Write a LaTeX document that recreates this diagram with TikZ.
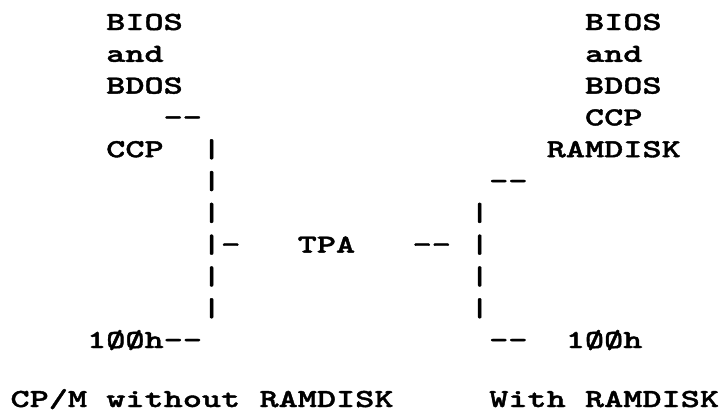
\documentclass[tikz,border=0pt]{standalone}
\usepackage{fontspec}
\newfontfamily\typer{lmmonolt10-bold.otf}[FakeStretch=1.403, FakeBold=1.5]
\begin{document}
\begin{tikzpicture}[x=1pt,y=-1pt,
  tt/.style={anchor=base west, inner sep=0pt, font=\typer\fontsize{26}{30}\selectfont}]
\useasboundingbox (0,0) rectangle (723,416);
% without RAMDISK
\node[tt] (lbios) at (106,30){BIOS};
\node[tt] (land) at (106,61.8){and};
\node[tt] (lbdos) at (106,93.6){BDOS};
\node[tt] (ltop) at (163.4,125.4){--};
\node[tt] (lccp) at (106,157.2){CCP};
\node[tt] (lbar4) at (201.8,157.2){|};
\node[tt] (lbar5) at (201.8,189){|};
\node[tt] (lbar6) at (201.8,220.8){|};
\node[tt] (lbar7) at (201.8,252.6){|-};
\node[tt] (lbar8) at (201.8,284.4){|};
\node[tt] (lbar9) at (201.8,316.2){|};
\node[tt] (lbase) at (86.9,348){1ØØh--};
% TPA in the middle
\node[tt] (tpa) at (297.5,252.6){TPA};
% with RAMDISK
\node[tt] (rbios) at (584.8,30){BIOS};
\node[tt] (rand) at (584.8,61.8){and};
\node[tt] (rbdos) at (584.8,93.6){BDOS};
\node[tt] (rccp) at (584.8,125.4){CCP};
\node[tt] (rdisk) at (546.5,157.2){RAMDISK};
\node[tt] (rtop) at (489,189){--};
\node[tt] (rbar6) at (469.9,220.8){|};
\node[tt] (rmid) at (412.4,252.6){--};
\node[tt] (rbar7) at (469.9,252.6){|};
\node[tt] (rbar8) at (469.9,284.4){|};
\node[tt] (rbar9) at (469.9,316.2){|};
\node[tt] (rlow) at (489,348){--};
\node[tt] (rbase) at (565.6,348){1ØØh};
% captions
\node[tt] (lcap) at (10.3,407){CP/M without RAMDISK};
\node[tt] (rcap) at (489,407){With RAMDISK};
\end{tikzpicture}
\end{document}
